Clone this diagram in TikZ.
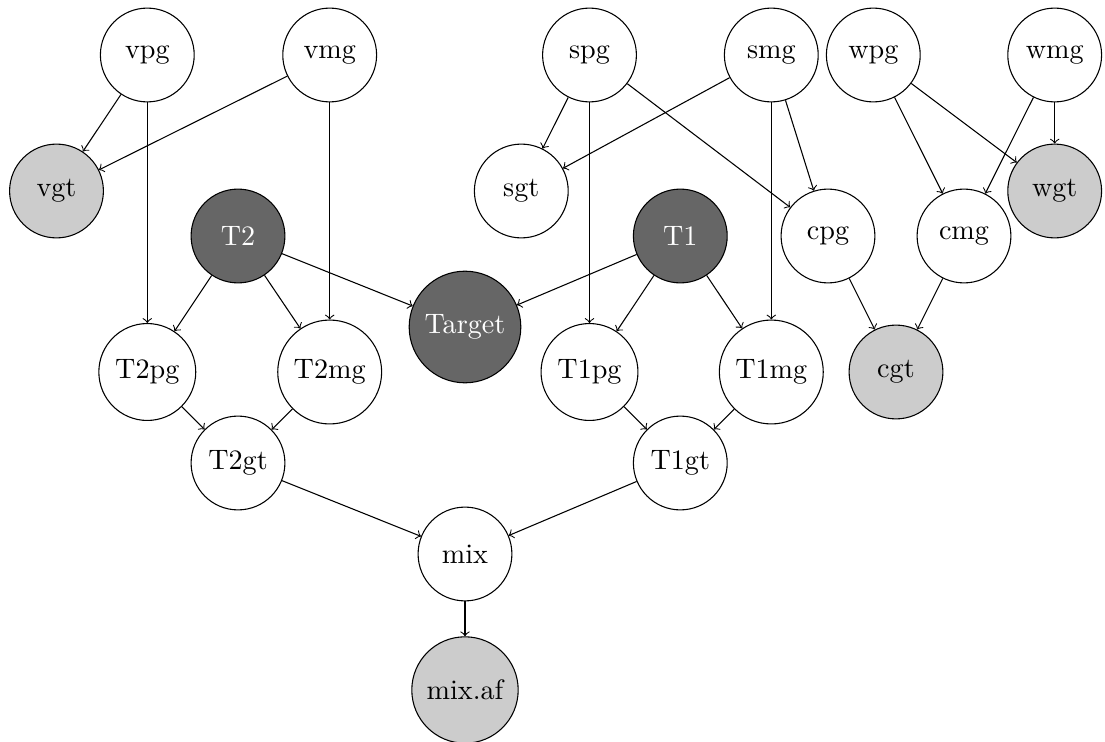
\documentclass[tikz,border=0pt]{standalone}
\begin{document}
\begin{tikzpicture}[x=0.3731pt,y=-0.3731pt,
  base/.style={circle,draw=black,inner sep=4pt,minimum size=35pt,font=\fontsize{10.5}{12.6}\selectfont},
  plain/.style={base,fill=white},
  obs/.style={base,fill=black!20},
  hid/.style={base,fill=black!60,text=white},
  edge/.style={->}]
\useasboundingbox (0,0) rectangle (1105,742);
% top row
\node[plain] (vpg) at (147.3,55) {vpg};
\node[plain] (vmg) at (329.7,55) {vmg};
\node[plain] (spg) at (589.5,55) {spg};
\node[plain] (smg) at (771.3,55) {smg};
\node[plain] (wpg) at (873.3,55) {wpg};
\node[plain] (wmg) at (1054.7,55) {wmg};
% second row
\node[obs] (vgt) at (56.5,191) {vgt};
\node[plain] (sgt) at (521.3,191) {sgt};
\node[obs] (wgt) at (1054.7,191) {wgt};
% third row
\node[hid] (T2) at (238,236) {T2};
\node[hid] (T1) at (680.3,236) {T1};
\node[plain] (cpg) at (828,236) {cpg};
\node[plain] (cmg) at (964,236) {cmg};
% target
\node[hid] (Target) at (465,327) {Target};
% fourth row
\node[plain] (T2pg) at (147.3,372) {T2pg};
\node[plain] (T2mg) at (329.7,372) {T2mg};
\node[plain] (T1pg) at (589.5,372) {T1pg};
\node[plain] (T1mg) at (771.3,372) {T1mg};
\node[obs] (cgt) at (896,372) {cgt};
% fifth row
\node[plain] (T2gt) at (238,463) {T2gt};
\node[plain] (T1gt) at (680.3,463) {T1gt};
% mix
\node[plain] (mix) at (465,554) {mix};
\node[obs] (mixaf) at (465,690) {mix.af};
% edges
\draw[edge] (vpg) -- (vgt);
\draw[edge] (vmg) -- (vgt);
\draw[edge] (vpg) -- (T2pg);
\draw[edge] (vmg) -- (T2mg);
\draw[edge] (T2) -- (T2pg);
\draw[edge] (T2) -- (T2mg);
\draw[edge] (T2) -- (Target);
\draw[edge] (T1) -- (Target);
\draw[edge] (T1) -- (T1pg);
\draw[edge] (T1) -- (T1mg);
\draw[edge] (spg) -- (sgt);
\draw[edge] (smg) -- (sgt);
\draw[edge] (spg) -- (T1pg);
\draw[edge] (smg) -- (T1mg);
\draw[edge] (spg) -- (cpg);
\draw[edge] (smg) -- (cpg);
\draw[edge] (wpg) -- (cmg);
\draw[edge] (wpg) -- (wgt);
\draw[edge] (wmg) -- (cmg);
\draw[edge] (wmg) -- (wgt);
\draw[edge] (cpg) -- (cgt);
\draw[edge] (cmg) -- (cgt);
\draw[edge] (T2pg) -- (T2gt);
\draw[edge] (T2mg) -- (T2gt);
\draw[edge] (T1pg) -- (T1gt);
\draw[edge] (T1mg) -- (T1gt);
\draw[edge] (T2gt) -- (mix);
\draw[edge] (T1gt) -- (mix);
\draw[edge] (mix) -- (mixaf);
\end{tikzpicture}
\end{document}
